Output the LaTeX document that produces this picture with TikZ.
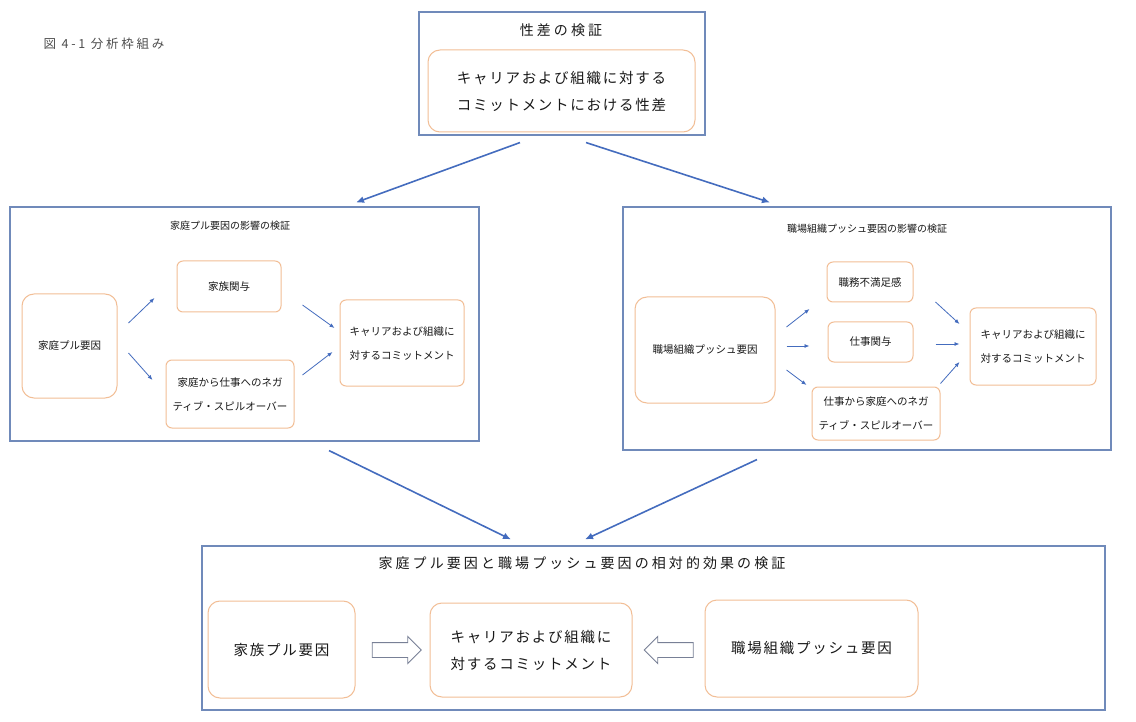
\documentclass[tikz,border=0pt]{standalone}
\usepackage{fontspec}
\setmainfont{Noto Sans CJK JP}
\newfontfamily\jpspaced[LetterSpace=12]{Noto Sans CJK JP}
\newfontfamily\jpwide[LetterSpace=22]{Noto Sans CJK JP}
\usetikzlibrary{arrows.meta,positioning,shapes.arrows}
\definecolor{panelline}{RGB}{112,138,186}
\definecolor{boxline}{RGB}{242,190,150}
\definecolor{flowblue}{RGB}{68,108,190}
\definecolor{hollowline}{RGB}{120,128,150}

\begin{document}
\begin{tikzpicture}[x=1pt, y=-1pt, >={Latex[length=5pt,width=4pt]},
  panel/.style={draw=panelline, line width=1.1pt, fill=white, inner sep=0pt},
  box/.style={draw=boxline, line width=1pt, rounded corners=9pt, fill=white, align=center, inner sep=0pt, text=black!90},
  smallbox/.style={box, rounded corners=6pt, font=\fontsize{10.5}{24}\selectfont},
  bigbox/.style={box, rounded corners=12pt, font=\jpspaced\fontsize{14.5}{27}\selectfont},
  ptitle/.style={font=\fontsize{10}{12}\selectfont, text=black!90},
  btitle/.style={font=\jpwide\fontsize{14}{16}\selectfont, text=black!90},
  flow/.style={->, draw=flowblue, line width=0.8pt},
  bigflow/.style={->, draw=flowblue, line width=1.6pt, >={Latex[length=8pt,width=7pt]}},
  hollow/.style={single arrow, draw=hollowline, line width=0.9pt, fill=white, minimum height=49pt, inner xsep=0pt, inner ysep=7pt, single arrow head extend=6pt, single arrow head indent=0pt}]
\useasboundingbox (0,0) rectangle (1136,722);
% ---------------- caption
\node[anchor=west, font=\jpwide\fontsize{12.5}{14}\selectfont, text=black!70] (cap) at (40,44) {図 4-1 分析枠組み};
% ---------------- top: sex difference
\node[panel, minimum width=286pt, minimum height=123pt] (pT) at (562,73.5) {};
\node[btitle] (tT) at (561,30) {性差の検証};
\node[bigbox, minimum width=267pt, minimum height=82pt] (topin) at (561.5,91) {キャリアおよび組織に対する\\コミットメントにおける性差};
% ---------------- left: family pull factors
\node[panel, minimum width=469pt, minimum height=234pt] (pL) at (244.5,324) {};
\node[ptitle] (tL) at (230,226) {家庭プル要因の影響の検証};
\node[smallbox, minimum width=95pt, minimum height=104pt, rounded corners=12pt] (lsrc) at (69.5,346) {家庭プル要因};
\node[smallbox, minimum width=104pt, minimum height=51pt] (lfam) at (229,286.5) {家族関与};
\node[smallbox, minimum width=128pt, minimum height=68pt] (lneg) at (230,394) {家庭から仕事へのネガ\\ティブ・スピルオーバー};
\node[smallbox, minimum width=124pt, minimum height=86pt] (ltgt) at (402,343) {キャリアおよび組織に\\対するコミットメント};
\draw[flow] ([shift={(11,-23)}]lsrc.east) -- ([shift={(-22,11.5)}]lfam.west);
\draw[flow] ([shift={(11,7)}]lsrc.east) -- ([shift={(-13,-14)}]lneg.west);
\draw[flow] ([shift={(21,18.5)}]lfam.east) -- ([shift={(-5,-15)}]ltgt.west);
\draw[flow] ([shift={(8,-19)}]lneg.east) -- ([shift={(-7,9)}]ltgt.west);
% ---------------- right: workplace push factors
\node[panel, minimum width=488pt, minimum height=243pt] (pR) at (867,328.5) {};
\node[ptitle] (tR) at (867,229) {職場組織プッシュ要因の影響の検証};
\node[smallbox, minimum width=140pt, minimum height=106pt, rounded corners=12pt] (rsrc) at (705,350) {職場組織プッシュ要因};
\node[smallbox, minimum width=86pt, minimum height=40pt] (rdis) at (870,282) {職務不満足感};
\node[smallbox, minimum width=85pt, minimum height=40pt] (rjob) at (870.5,342) {仕事関与};
\node[smallbox, minimum width=128pt, minimum height=53pt] (rneg) at (876,413.5) {仕事から家庭へのネガ\\ティブ・スピルオーバー};
\node[smallbox, minimum width=126pt, minimum height=77pt] (rtgt) at (1033,346.5) {キャリアおよび組織に\\対するコミットメント};
\draw[flow] ([shift={(11,-23)}]rsrc.east) -- ([shift={(-17,27)}]rdis.west);
\draw[flow] ([shift={(11,-4)}]rsrc.east) -- ([shift={(-18,4)}]rjob.west);
\draw[flow] ([shift={(11,20)}]rsrc.east) -- ([shift={(-5,-28.5)}]rneg.west);
\draw[flow] ([shift={(22,20)}]rdis.east) -- ([shift={(-10,-22.5)}]rtgt.west);
\draw[flow] ([shift={(22,2)}]rjob.east) -- ([shift={(-10,-2.5)}]rtgt.west);
\draw[flow] ([shift={(0,-3)}]rneg.north east) -- ([shift={(-10,15.5)}]rtgt.west);
% ---------------- bottom: relative effects
\node[panel, minimum width=903pt, minimum height=164pt] (pB) at (653.5,628) {};
\node[btitle] (tB) at (582,563) {家庭プル要因と職場プッシュ要因の相対的効果の検証};
\node[bigbox, minimum width=147pt, minimum height=97pt] (bfam) at (281.5,649.5) {家族プル要因};
\node[bigbox, minimum width=202pt, minimum height=94pt] (btgt) at (531,650) {キャリアおよび組織に\\対するコミットメント};
\node[bigbox, minimum width=213pt, minimum height=97pt] (bwork) at (811.5,648.5) {職場組織プッシュ要因};
\node[hollow] (hL) at (393,650) {};
\node[hollow, shape border rotate=180] (hR) at (672.5,650) {};
% ---------------- connectors between panels
\draw[bigflow] ([shift={(-42,7)}]pT.south) -- ([shift={(111.5,-4)}]pL.north);
\draw[bigflow] ([shift={(24,7)}]pT.south) -- ([shift={(-97,-4)}]pR.north);
\draw[bigflow] ([shift={(84.5,9)}]pL.south) -- ([shift={(-142.5,-6)}]pB.north);
\draw[bigflow] ([shift={(-110,9)}]pR.south) -- ([shift={(-68.5,-6)}]pB.north);
\end{tikzpicture}
\end{document}
